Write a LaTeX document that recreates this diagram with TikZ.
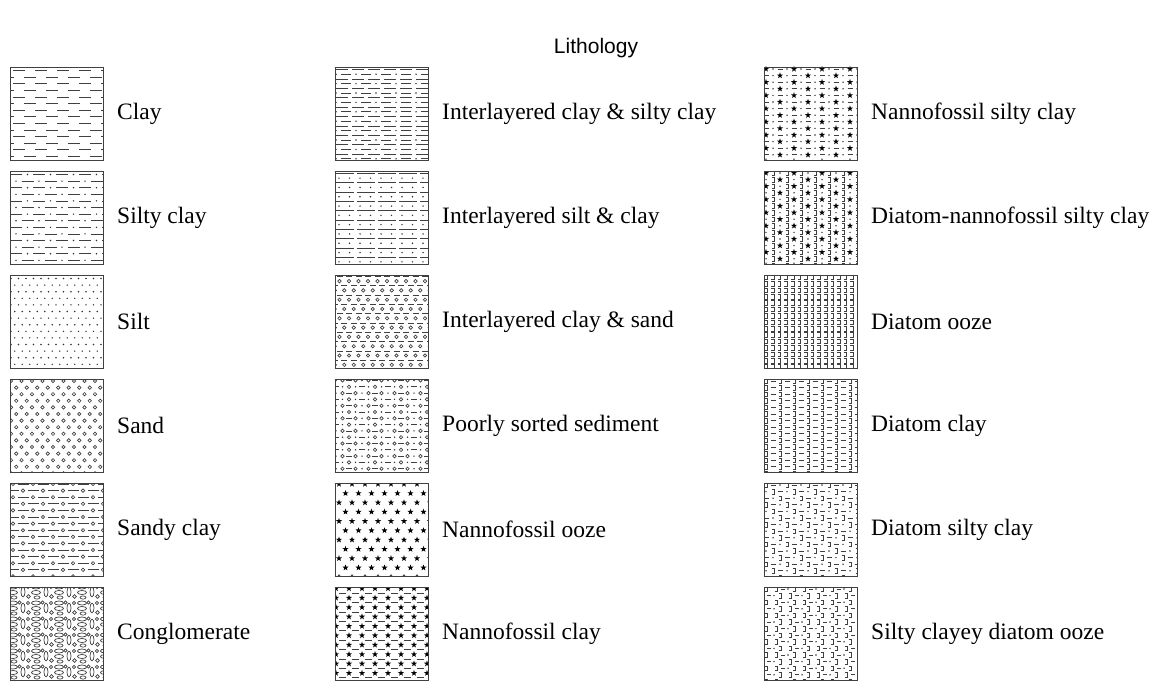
\documentclass[tikz,border=0pt]{standalone}
\usepackage{fontspec}
\setmainfont{Liberation Serif}
\newfontfamily\titlefont{Liberation Sans}
\usetikzlibrary{positioning}

\tikzset{
  box/.style={draw, line width=0.8pt, black!75, minimum width=93pt, minimum height=93pt,
    inner sep=0pt, outer sep=0pt, anchor=north west},
  lbl/.style={inner sep=0pt, anchor=west, font=\fontsize{23.5}{28}\selectfont},
  pat/.style={line width=0.7pt, black!75},
  patf/.style={black!80},
}

% single marks
\newcommand\mkdot[2]{\fill[patf] (#1,#2) circle (0.8);}
\newcommand\mkring[2]{\draw[pat] (#1,#2) circle (1.7);}
\newcommand\mkdash[3]{\draw[pat] (#1,#2) -- ++(#3,0);}
\newcommand\mkstar[2]{\fill[black, shift={(#1,#2)}] (-90:3.2) -- (-54:1.3) -- (-18:3.2) -- (18:1.3)
  -- (54:3.2) -- (90:1.3) -- (126:3.2) -- (162:1.3) -- (198:3.2) -- (234:1.3) -- cycle;}
\newcommand\mkdiat[2]{\draw[pat] (#1-1.5,#2-2.3) -- ++(3,0) -- ++(0,4.6) -- ++(-3,0);}

% patterns
\newcommand\patclay{%
  \foreach \r in {0,...,13}{%
    \pgfmathsetmacro\yy{3.5+6.6*\r}\pgfmathsetmacro\oo{mod(\r,2)*11}%
    \foreach \c in {-1,...,4}{\mkdash{\oo+22*\c+3}{\yy}{12}}}}
\newcommand\patsiltyclay{%
  \foreach \r in {0,...,13}{%
    \pgfmathsetmacro\yy{3.5+6.6*\r}\pgfmathsetmacro\oo{mod(\r,2)*11.5}%
    \foreach \c in {-1,...,4}{\mkdash{\oo+23*\c}{\yy}{12}\mkdot{\oo+23*\c+17.5}{\yy}}}}
\newcommand\patsilt{%
  \foreach \r in {0,...,13}{%
    \pgfmathsetmacro\yy{3.5+6.6*\r}\pgfmathsetmacro\oo{mod(\r,2)*3.75}%
    \foreach \c in {0,...,12}{\mkdot{\oo+7.5*\c+1}{\yy}}}}
\newcommand\patsand{%
  \foreach \r in {0,...,14}{%
    \pgfmathsetmacro\yy{2+6.6*\r}\pgfmathsetmacro\oo{mod(\r,2)*5.25}%
    \foreach \c in {0,...,9}{\mkring{\oo+10.5*\c+1}{\yy}}}}
\newcommand\patsandyclay{%
  \foreach \r in {0,...,14}{%
    \pgfmathsetmacro\yy{1+6.6*\r}\pgfmathsetmacro\oo{mod(\r,2)*10}%
    \foreach \c in {-1,...,4}{\mkring{\oo+20*\c+3}{\yy}\mkdash{\oo+20*\c+7.5}{\yy}{11}}}}
\newcommand\patcongl{%
  \foreach \i in {0,...,4}{\foreach \j in {0,...,6}{%
    \begin{scope}[shift={(23*\i-2,16*\j-3)}]
      \draw[pat] (5,3) ellipse (4.5 and 2);
      \draw[pat] (5,8.5) ellipse (4.5 and 2);
      \draw[pat] (15,8) ellipse (2 and 4.8);
      \draw[pat] (11.5,2.5) circle (1.6);
      \draw[pat] (20,3) circle (1.6);
      \draw[pat] (20.5,12.5) circle (1.8);
      \draw[pat] (6,13.5) ellipse (3 and 1.6);
    \end{scope}}}}
\newcommand\patiklaysilty{%
  \foreach \r in {0,...,19}{%
    \pgfmathsetmacro\yy{2.5+4.7*\r}%
    \ifodd\r
      \foreach \c in {-1,...,5}{\mkdash{20*\c+6}{\yy}{10}\mkdot{20*\c+21}{\yy}}%
    \else
      \foreach \c in {0,...,6}{\mkdash{16*\c+1}{\yy}{12}}%
    \fi}}
\newcommand\patisiltclay{%
  \foreach \r in {0,...,9}{%
    \pgfmathsetmacro\yy{2.5+9.3*\r}\pgfmathsetmacro\zz{\yy+4.65}%
    \foreach \c in {0,...,4}{\mkdash{21*\c+1}{\yy}{18}}%
    \foreach \c in {0,...,8}{\mkdot{10.5*\c+4}{\zz}}}}
\newcommand\patiklaysand{%
  \foreach \r in {0,...,9}{%
    \pgfmathsetmacro\yy{1.5+9.3*\r}\pgfmathsetmacro\zz{\yy+4.6}\pgfmathsetmacro\oo{mod(\r,2)*4.75}%
    \foreach \c in {-1,...,9}{\mkdash{\oo+9.5*\c+1.5}{\yy}{6}\mkring{\oo+9.5*\c+4.5}{\zz}}}}
\newcommand\patpoorly{%
  \foreach \r in {0,...,14}{%
    \pgfmathsetmacro\yy{1.5+6.3*\r}%
    \foreach \c in {0,...,3}{%
      \pgfmathsetmacro\xx{26*\c+1}%
      \ifodd\r
        \mkdash{\xx-3}{\yy}{6}\mkdot{\xx+6.5}{\yy}\mkring{\xx+13}{\yy}\mkdot{\xx+19.5}{\yy}%
      \else
        \mkdot{\xx}{\yy}\mkring{\xx+6.5}{\yy}\mkdash{\xx+10}{\yy}{6}\mkring{\xx+19.5}{\yy}%
      \fi}}}
\newcommand\patnannoooze{%
  \foreach \r in {0,...,10}{%
    \pgfmathsetmacro\yy{1+9.3*\r}\pgfmathsetmacro\oo{mod(\r,2)*6.5}%
    \foreach \c in {-1,...,7}{\mkstar{\oo+13*\c+4}{\yy}}}}
\newcommand\patnannoclay{%
  \foreach \r in {0,...,9}{%
    \pgfmathsetmacro\yy{1.5+9.4*\r}\pgfmathsetmacro\zz{\yy+4.7}%
    \foreach \c in {0,...,7}{\mkstar{13*\c+1}{\yy}\mkdash{13*\c+3.5}{\zz}{7}}}}
% mixed rows: #1 = number of kinds, kinds picked by \ifcase
\newcommand\patmix[2]{%
  \foreach \r in {0,...,14}{%
    \pgfmathsetmacro\yy{2+6.6*\r}%
    \foreach \c in {0,...,13}{%
      \pgfmathtruncatemacro\kk{mod(\c+2*\r,#1)}%
      \pgfmathsetmacro\xx{7*\c+2}%
      #2}}}
\newcommand\patnannosilty{\patmix{4}{\ifcase\kk \mkstar{\xx}{\yy}\or\mkdot{\xx}{\yy}\or\mkdash{\xx-2.5}{\yy}{5}\or\mkdot{\xx}{\yy}\fi}}
\newcommand\patdiatnanno{\patmix{4}{\ifcase\kk \mkstar{\xx}{\yy}\or\mkdiat{\xx}{\yy}\or\mkdot{\xx}{\yy}\or\mkdiat{\xx}{\yy}\fi}}
\newcommand\patdiatooze{%
  \foreach \r in {0,...,14}{%
    \pgfmathsetmacro\yy{2.5+6.4*\r}%
    \foreach \c in {0,...,13}{\mkdiat{6.6*\c+2}{\yy}}}}
\newcommand\patdiatclay{\patmix{2}{\ifcase\kk \mkdiat{\xx}{\yy}\or\mkdash{\xx-2.5}{\yy}{5}\fi}}
\newcommand\patdiatsilty{\patmix{3}{\ifcase\kk \mkdiat{\xx}{\yy}\or\mkdash{\xx-2.5}{\yy}{5}\or\mkdot{\xx}{\yy}\fi}}
\newcommand\patsiltyooze{\patmix{4}{\ifcase\kk \mkdiat{\xx}{\yy}\or\mkdiat{\xx+3}{\yy}\or\mkdash{\xx+1}{\yy}{4}\or\mkdot{\xx+1}{\yy}\fi}}

% one legend entry: name, x, y, pattern, label
\newcommand\swatch[5]{%
  \begin{scope}[shift={(#2,#3)}]\clip (0,0) rectangle (93,93); #4\end{scope}
  \node[box] at (#2,#3) (#1) {};
  \node[lbl, right=14pt of #1] (#1-l) {#5};}

\begin{document}
\begin{tikzpicture}[x=1pt,y=-1pt]
  \useasboundingbox (0,0) rectangle (1156,682);
  \node[font=\titlefont\fontsize{21}{25}\selectfont] at (596,48) (title) {Lithology};

  \swatch{clay}{10}{67}{\patclay}{Clay}
  \swatch{siltyclay}{10}{171}{\patsiltyclay}{Silty clay}
  \swatch{silt}{10}{275}{\patsilt}{Silt}
  \swatch{sand}{10}{379}{\patsand}{Sand}
  \swatch{sandyclay}{10}{483}{\patsandyclay}{Sandy clay}
  \swatch{congl}{10}{587}{\patcongl}{Conglomerate}

  \swatch{iclaysilty}{335}{67}{\patiklaysilty}{Interlayered clay \& silty clay}
  \swatch{isiltclay}{335}{171}{\patisiltclay}{Interlayered silt \& clay}
  \swatch{iclaysand}{335}{275}{\patiklaysand}{Interlayered clay \& sand}
  \swatch{poorly}{335}{379}{\patpoorly}{Poorly sorted sediment}
  \swatch{nannoooze}{335}{483}{\patnannoooze}{Nannofossil ooze}
  \swatch{nannoclay}{335}{587}{\patnannoclay}{Nannofossil clay}

  \swatch{nannosilty}{764}{67}{\patnannosilty}{Nannofossil silty clay}
  \swatch{diatnanno}{764}{171}{\patdiatnanno}{Diatom-nannofossil silty clay}
  \swatch{diatooze}{764}{275}{\patdiatooze}{Diatom ooze}
  \swatch{diatclay}{764}{379}{\patdiatclay}{Diatom clay}
  \swatch{diatsilty}{764}{483}{\patdiatsilty}{Diatom silty clay}
  \swatch{siltyooze}{764}{587}{\patsiltyooze}{Silty clayey diatom ooze}
\end{tikzpicture}
\end{document}
